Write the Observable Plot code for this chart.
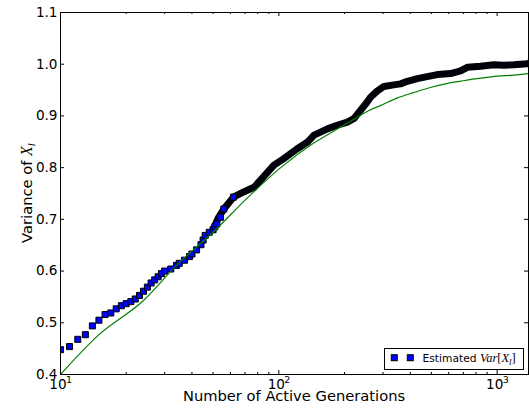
<!DOCTYPE html>
<html><head><meta charset="utf-8">
<script src="https://cdn.jsdelivr.net/npm/d3@7"></script>
<script src="https://cdn.jsdelivr.net/npm/@observablehq/plot@0.6"></script>
<style>body{margin:0;background:#fff;} #chart{width:529px;height:415px;}</style>
</head><body><div id="chart"></div>
<script>
// Estimated variance: individually visible markers (generation, value)
const markerGens = [10,11,12,13,14,15,16,17,18,19,20,21,22,23,24,25,26,27,28,29,30,32,34,35,37,39,40,42,44,45,46,48,50,51,52,54];
const markerVar  = [0.448,0.454,0.468,0.477,0.494,0.505,0.516,0.519,0.527,0.533,0.537,0.541,0.546,0.553,0.561,0.569,0.577,0.583,0.589,0.595,0.600,0.604,0.611,0.615,0.621,0.628,0.633,0.641,0.651,0.660,0.669,0.675,0.680,0.686,0.691,0.704];
// Estimated variance: dense region where markers merge into a band
const bandGens = [50,53,56,62,69,77,85,95,105,121,135,145,167,185,206,221,237,254,263,282,303,336,361,388,431,478,532,612,680,730,840,966,1073,1193,1373,1392];
const bandVar  = [0.680,0.704,0.720,0.743,0.753,0.762,0.782,0.805,0.817,0.836,0.849,0.863,0.875,0.882,0.888,0.895,0.911,0.927,0.936,0.948,0.957,0.960,0.962,0.967,0.972,0.976,0.980,0.982,0.987,0.994,0.996,0.999,0.998,0.999,1.001,1.002];
// Theoretical curve (green)
const theoryGens = [10,15,24,34,50,72,102,144,186,220,263,292,350,414,495,593,700,840,1000,1190,1392];
const theoryVar  = [0.400,0.477,0.543,0.611,0.675,0.742,0.800,0.847,0.875,0.893,0.912,0.920,0.935,0.945,0.955,0.963,0.968,0.973,0.977,0.979,0.982];
// Axes
const xDomain = [10, 1392];
const yDomain = [0.4, 1.1];
const xMajorTicks = [10, 100, 1000];
const xMajorBase = "10";
const xMajorExponents = ["1", "2", "3"];
const xMinorTicks = [20,30,40,50,60,70,80,90,200,300,400,500,600,700,800,900];
const yTicks = [0.4,0.5,0.6,0.7,0.8,0.9,1.0,1.1];
const yTickLabels = ["0.4","0.5","0.6","0.7","0.8","0.9","1.0","1.1"];
const xLabel = "Number of Active Generations";
const yLabelPrefix = "Variance of ";
const yLabelVar = "X";
const yLabelSub = "l";
const legendPrefix = "Estimated ";

const markers = markerGens.map((g, i) => ({g, v: markerVar[i]}));
const band = bandGens.map((g, i) => ({g, v: bandVar[i]}));
const bandEarly = band.filter(d => d.g > 54 && d.g <= 62);
const theory = theoryGens.map((g, i) => ({g, v: theoryVar[i]}));

const W = 529, H = 415, mL = 60, mR = 1, mT = 12, mB = 41;
const innerW = W - mL - mR, innerH = H - mT - mB;
const tickFont = 13.6, labelFont = 14.7;

const chart = Plot.plot({
  width: W, height: H,
  marginLeft: mL, marginRight: mR, marginTop: mT, marginBottom: mB,
  style: {background: "white", fontFamily: "DejaVu Sans", fontSize: "13px", color: "black", overflow: "visible"},
  x: {type: "log", domain: xDomain, axis: null},
  y: {domain: yDomain, axis: null},
  marks: [
    Plot.line(band, {x: "g", y: "v", stroke: "#000008", strokeWidth: 7, strokeLinejoin: "round", strokeLinecap: "round", clip: true}),
    Plot.dot(markers.concat(bandEarly), {x: "g", y: "v", symbol: "square", r: 3.4, fill: "#0000ff", stroke: "black", strokeWidth: 1, clip: true}),
    Plot.line(theory, {x: "g", y: "v", stroke: "#008000", strokeWidth: 1.2, curve: "monotone-x", clip: true}),
    Plot.frame({stroke: "black", strokeWidth: 1}),
    Plot.tickX(xMajorTicks, {x: d => d, insetTop: innerH - 4, stroke: "black"}),
    Plot.tickX(xMajorTicks, {x: d => d, insetBottom: innerH - 4, stroke: "black"}),
    Plot.tickX(xMinorTicks, {x: d => d, insetTop: innerH - 2, stroke: "black"}),
    Plot.tickX(xMinorTicks, {x: d => d, insetBottom: innerH - 2, stroke: "black"}),
    Plot.tickY(yTicks, {y: d => d, insetRight: innerW - 4, stroke: "black"}),
    Plot.tickY(yTicks, {y: d => d, insetLeft: innerW - 4, stroke: "black"}),
    Plot.text(yTicks, {y: d => d, text: (d, i) => yTickLabels[i], frameAnchor: "left", dx: -3, textAnchor: "end", lineAnchor: "middle", fontSize: tickFont}),
    Plot.text(xMajorTicks, {x: d => d, text: () => xMajorBase, frameAnchor: "bottom", lineAnchor: "top", dy: 5, dx: -2.5, fontSize: tickFont}),
    Plot.text(xMajorTicks, {x: d => d, text: (d, i) => xMajorExponents[i], frameAnchor: "bottom", lineAnchor: "top", dy: 1.5, dx: 5.5, textAnchor: "start", fontSize: 9.5})
  ]
});
document.getElementById("chart").appendChild(chart);

const svg = d3.select(chart);
// x-axis label
svg.append("text").attr("x", mL + innerW / 2).attr("y", 400.5).attr("text-anchor", "middle")
  .attr("font-family", "DejaVu Sans").attr("font-size", labelFont).attr("fill", "black").text(xLabel);
// y-axis label
const yl = svg.append("text").attr("transform", `translate(32,${mT + innerH / 2}) rotate(-90)`)
  .attr("text-anchor", "middle").attr("font-family", "DejaVu Sans").attr("font-size", labelFont).attr("fill", "black");
yl.append("tspan").text(yLabelPrefix);
yl.append("tspan").attr("font-family", "Liberation Serif").attr("font-style", "italic").attr("font-size", 16).text(yLabelVar);
yl.append("tspan").attr("font-family", "Liberation Serif").attr("font-style", "italic").attr("font-size", 11).attr("dy", 3).text(yLabelSub);

// legend
const lg = svg.append("g");
lg.append("rect").attr("x", 384.5).attr("y", 348.5).attr("width", 139).attr("height", 21)
  .attr("fill", "white").attr("stroke", "black").attr("stroke-width", 1);
[394.3, 410.3].forEach(cx => lg.append("rect").attr("x", cx - 3).attr("y", 354.7).attr("width", 6).attr("height", 6)
  .attr("fill", "#0000ff").attr("stroke", "black").attr("stroke-width", 1));
const lt = lg.append("text").attr("x", 422.5).attr("y", 362).attr("text-anchor", "start")
  .attr("font-family", "DejaVu Sans").attr("font-size", 10.7).attr("fill", "black");
lt.append("tspan").text(legendPrefix);
const serifIt = t => lt.append("tspan").attr("font-family", "Liberation Serif").attr("font-style", "italic").attr("font-size", 12.5).text(t);
const serifUp = t => lt.append("tspan").attr("font-family", "Liberation Serif").attr("font-style", "normal").attr("font-size", 12.5).text(t);
serifIt("Var");
serifUp("[");
serifIt("X");
lt.append("tspan").attr("font-family", "Liberation Serif").attr("font-style", "italic").attr("font-size", 9).attr("dy", 2.5).text("l");
lt.append("tspan").attr("font-family", "Liberation Serif").attr("font-size", 12.5).attr("dy", -2.5).text("]");
</script>
</body></html>
